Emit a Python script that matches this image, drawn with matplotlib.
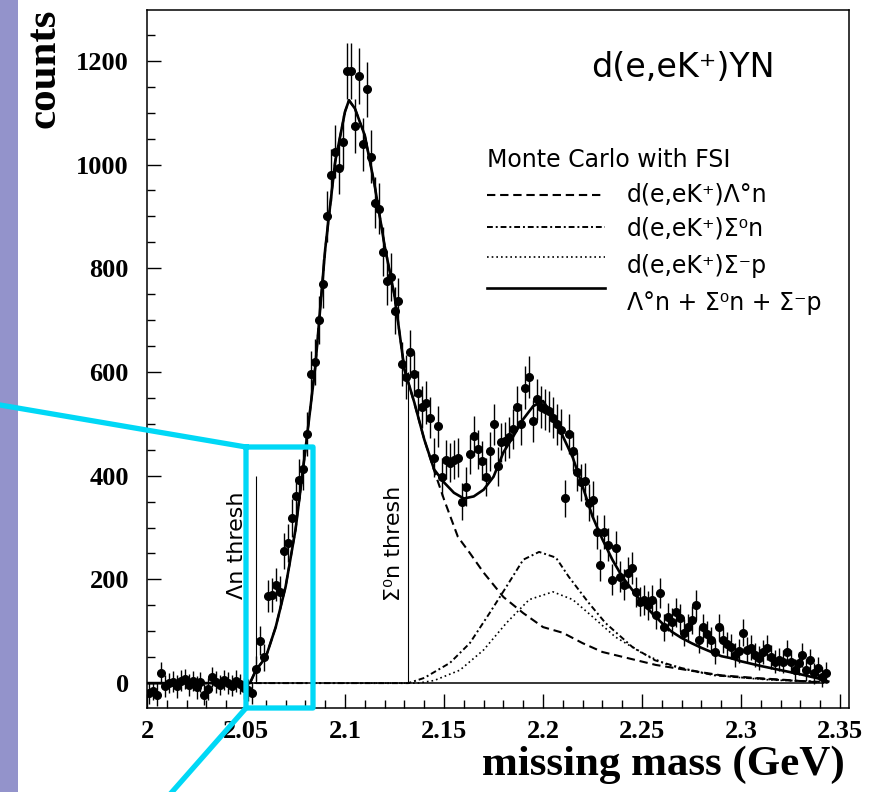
import numpy as np
import matplotlib
matplotlib.use("Agg")
import matplotlib.pyplot as plt
from matplotlib.ticker import MultipleLocator, FormatStrFormatter

# %% data: missing-mass spectrum d(e,eK+)YN, 2 MeV bins starting at 2.000 GeV
bin_lo = 2.000
bin_width = 0.002

counts = [
    -20, -15, -22, 20, -5, 0, 3, -6, 5, 8,
    -3, 4, -8, 2, -22, -12, 12, 2, -4, 6,
    0, -5, 4, -2, -10, -14, -20, 28, 82, 50,
    168, 170, 190, 175, 255, 270, 318, 360, 392, 412,
    480, 596, 619, 700, 770, 900, 980, 1025, 994, 1044,
    1180, 1180, 1075, 1170, 1039, 1145, 1015, 926, 915, 832,
    776, 783, 718, 737, 615, 590, 638, 596, 560, 532,
    541, 512, 435, 495, 398, 431, 425, 431, 435, 350,
    379, 441, 476, 451, 429, 398, 447, 499, 418, 464,
    466, 474, 490, 532, 499, 570, 590, 505, 547, 532,
    528, 524, 512, 499, 489, 356, 480, 447, 408, 387,
    389, 348, 354, 292, 228, 292, 267, 199, 261, 205,
    190, 213, 222, 175, 157, 161, 150, 161, 132, 174,
    108, 128, 118, 137, 126, 97, 108, 122, 151, 83,
    108, 95, 83, 60, 108, 83, 75, 70, 54, 62,
    97, 64, 68, 55, 48, 60, 68, 50, 41, 45,
    41, 60, 41, 25, 38, 54, 25, 44, 19, 30,
    12, 20,
]

errors = [
    20, 18, 22, 20, 21, 19, 20, 22, 20, 19,
    21, 20, 22, 19, 20, 21, 20, 22, 19, 20,
    21, 20, 22, 19, 20, 21, 20, 24, 28, 26,
    30, 32, 32, 32, 35, 36, 37, 38, 40, 40,
    42, 44, 44, 46, 47, 49, 50, 51, 50, 51,
    54, 54, 52, 54, 51, 53, 51, 49, 49, 47,
    46, 46, 45, 45, 43, 42, 43, 42, 41, 41,
    41, 40, 38, 40, 37, 38, 38, 38, 38, 36,
    37, 38, 39, 38, 38, 37, 38, 39, 37, 38,
    38, 39, 39, 40, 39, 41, 41, 40, 40, 40,
    40, 40, 39, 39, 39, 36, 39, 38, 37, 36,
    36, 35, 35, 33, 31, 33, 32, 30, 32, 30,
    30, 30, 31, 29, 28, 29, 28, 29, 28, 29,
    26, 27, 27, 28, 27, 26, 26, 27, 29, 25,
    26, 25, 25, 24, 26, 25, 24, 24, 23, 24,
    26, 24, 24, 23, 23, 24, 24, 23, 22, 22,
    22, 23, 22, 21, 22, 23, 21, 22, 20, 21,
    20, 20,
]

mass = bin_lo + bin_width * (np.arange(len(counts)) + 0.5)

# Monte Carlo curves
total_mass = [2.000, 2.052, 2.055, 2.060, 2.065, 2.070, 2.075, 2.080, 2.085, 2.090,
              2.095, 2.100, 2.102, 2.105, 2.110, 2.115, 2.120, 2.125, 2.130, 2.135,
              2.140, 2.145, 2.150, 2.155, 2.160, 2.165, 2.170, 2.175, 2.180, 2.185,
              2.190, 2.195, 2.200, 2.205, 2.210, 2.215, 2.220, 2.225, 2.230, 2.235,
              2.240, 2.245, 2.250, 2.255, 2.260, 2.265, 2.270, 2.275, 2.280, 2.285,
              2.290, 2.295, 2.300, 2.310, 2.320, 2.330, 2.340, 2.344]
total_counts = [0, 0, 25, 50, 108, 186, 296, 450, 611, 837,
                1005, 1102, 1124, 1108, 1056, 959, 843, 747, 605, 541,
                470, 412, 387, 367, 356, 360, 373, 398, 445, 476,
                509, 534, 544, 515, 476, 435, 379, 321, 277, 238,
                205, 180, 155, 135, 116, 99, 87, 77, 68, 60,
                52, 48, 42, 33, 25, 17, 8, 3]

lam_mass = [2.000, 2.052, 2.055, 2.060, 2.065, 2.070, 2.075, 2.080, 2.085, 2.090,
            2.095, 2.100, 2.102, 2.105, 2.110, 2.115, 2.120, 2.125, 2.130, 2.135,
            2.140, 2.145, 2.150, 2.157, 2.163, 2.170, 2.180, 2.190, 2.200, 2.210,
            2.220, 2.230, 2.243, 2.257, 2.273, 2.290, 2.307, 2.323, 2.337, 2.344]
lam_counts = [0, 0, 25, 50, 108, 186, 296, 450, 611, 837,
              1005, 1102, 1124, 1108, 1056, 959, 843, 747, 605, 540,
              470, 410, 354, 282, 251, 213, 166, 135, 108, 97,
              77, 60, 48, 35, 25, 15, 10, 6, 2, 1]

sig0_mass = [2.000, 2.132, 2.140, 2.153, 2.163, 2.173, 2.1815, 2.190, 2.198, 2.2065,
             2.213, 2.223, 2.2315, 2.245, 2.2565, 2.270, 2.2865, 2.303, 2.320, 2.3365, 2.344]
sig0_counts = [0, 0, 10, 39, 77, 135, 186, 238, 253, 242,
               205, 155, 116, 70, 44, 29, 15, 10, 6, 3, 2]

sigm_mass = [2.000, 2.137, 2.145, 2.158, 2.170, 2.1815, 2.193, 2.205, 2.215, 2.225,
             2.2365, 2.250, 2.263, 2.278, 2.295, 2.315, 2.3365, 2.344]
sigm_counts = [0, 0, 5, 25, 64, 116, 161, 176, 161, 128,
               89, 58, 35, 21, 12, 6, 3, 2]

# thresholds (GeV) and the height their markers are drawn to
lam_thresh, lam_thresh_top = 2.0552, 400
sig0_thresh, sig0_thresh_top = 2.1318, 600

legend_labels = ["d(e,eK\u207a)\u039b\u00b0n", "d(e,eK\u207a)\u03a3\u2070n",
                 "d(e,eK\u207a)\u03a3\u207bp", "\u039b\u00b0n + \u03a3\u2070n + \u03a3\u207bp"]

# %% figure
fig = plt.figure(figsize=(8.75, 7.92), dpi=100)
ax = fig.add_axes([147 / 875, 84 / 792, 702 / 875, 698 / 792])

ax.hlines(0, 2.0, 2.342, color="black", lw=1.1)
ax.vlines(lam_thresh, 0, lam_thresh_top, color="black", lw=0.8)
ax.vlines(sig0_thresh, 0, sig0_thresh_top, color="black", lw=0.8)

lam_style = dict(lw=1.5, ls=(0, (4, 2.3)))
sig0_style = dict(lw=1.4, ls=(0, (3, 1.5, 1, 1.5)))
sigm_style = dict(lw=1.2, ls=(0, (1, 1.8)))
total_style = dict(lw=1.9, ls="-")

ax.plot(lam_mass, lam_counts, color="black", **lam_style)
ax.plot(sig0_mass, sig0_counts, color="black", **sig0_style)
ax.plot(sigm_mass, sigm_counts, color="black", **sigm_style)
ax.plot(total_mass, total_counts, color="black", **total_style)

ax.errorbar(mass, counts, yerr=errors, fmt="o", color="black", ms=5.5,
            elinewidth=1.0, capsize=0, zorder=5)

ax.set_xlim(2.0, 2.3545)
ax.set_ylim(-48, 1298)

ax.xaxis.set_major_locator(MultipleLocator(0.05))
ax.xaxis.set_minor_locator(MultipleLocator(0.01))
ax.yaxis.set_major_locator(MultipleLocator(200))
ax.yaxis.set_minor_locator(MultipleLocator(50))
ax.xaxis.set_major_formatter(FormatStrFormatter("%g"))
ax.tick_params(which="both", direction="in", top=False, right=False, width=1.0)
ax.tick_params(which="major", length=10)
ax.tick_params(which="minor", length=5.5)
ax.tick_params(axis="y", pad=13)
ax.tick_params(axis="x", pad=9)
for lab in ax.get_xticklabels() + ax.get_yticklabels():
    lab.set_fontfamily("Liberation Serif")
    lab.set_fontweight("bold")
    lab.set_fontsize(19)
for sp in ax.spines.values():
    sp.set_linewidth(1.1)

# reaction label and hand-made legend
sans = "DejaVu Sans"
ax.text(0.763, 0.917, "d(e,eK\u207a)YN", transform=ax.transAxes, ha="center",
        va="center", fontsize=24, family=sans)
ax.text(0.484, 0.785, "Monte Carlo with FSI", transform=ax.transAxes, ha="left",
        va="center", fontsize=17, family=sans)
styles = [lam_style, sig0_style, sigm_style, total_style]
line_y = [0.735, 0.689, 0.646, 0.602]
text_y = [0.735, 0.687, 0.633, 0.580]
for st, ly, ty, lab in zip(styles, line_y, text_y, legend_labels):
    ax.plot([0.484, 0.652], [ly, ly], transform=ax.transAxes, color="black", **st)
    ax.text(0.684, ty, lab, transform=ax.transAxes, ha="left", va="center",
            fontsize=17, family=sans)

ax.text(2.0453, 265, "\u039bn thresh", rotation=90, ha="center", va="center",
        fontsize=16, family=sans)
ax.text(2.1245, 270, "\u03a3\u2070n thresh", rotation=90, ha="center", va="center",
        fontsize=16, family=sans)

# axis titles
fig.text(44 / 875, 1 - 68 / 792, "counts", rotation=90, ha="center", va="center",
         family="Liberation Serif", fontweight="bold", fontsize=31)
fig.text(845 / 875, 1 - 765 / 792, "missing mass (GeV)", ha="right", va="center",
         family="Liberation Serif", fontweight="bold", fontsize=31)

# slide decorations: purple strip and cyan zoom box
over = fig.add_axes([0, 0, 1, 1], zorder=10)
over.set_xlim(0, 875)
over.set_ylim(792, 0)
over.axis("off")
over.patch.set_alpha(0)
over.add_patch(plt.Rectangle((0, 0), 18, 792, color="#9393cb", lw=0))
cyan = "#00d8f6"
over.plot([0, 246, 313, 313, 246, 246], [405, 447, 447, 708, 708, 447],
          color=cyan, lw=3.8, solid_joinstyle="round")
over.plot([246, 172], [708, 792], color=cyan, lw=3.8)

fig.savefig("out.png", dpi=100)
